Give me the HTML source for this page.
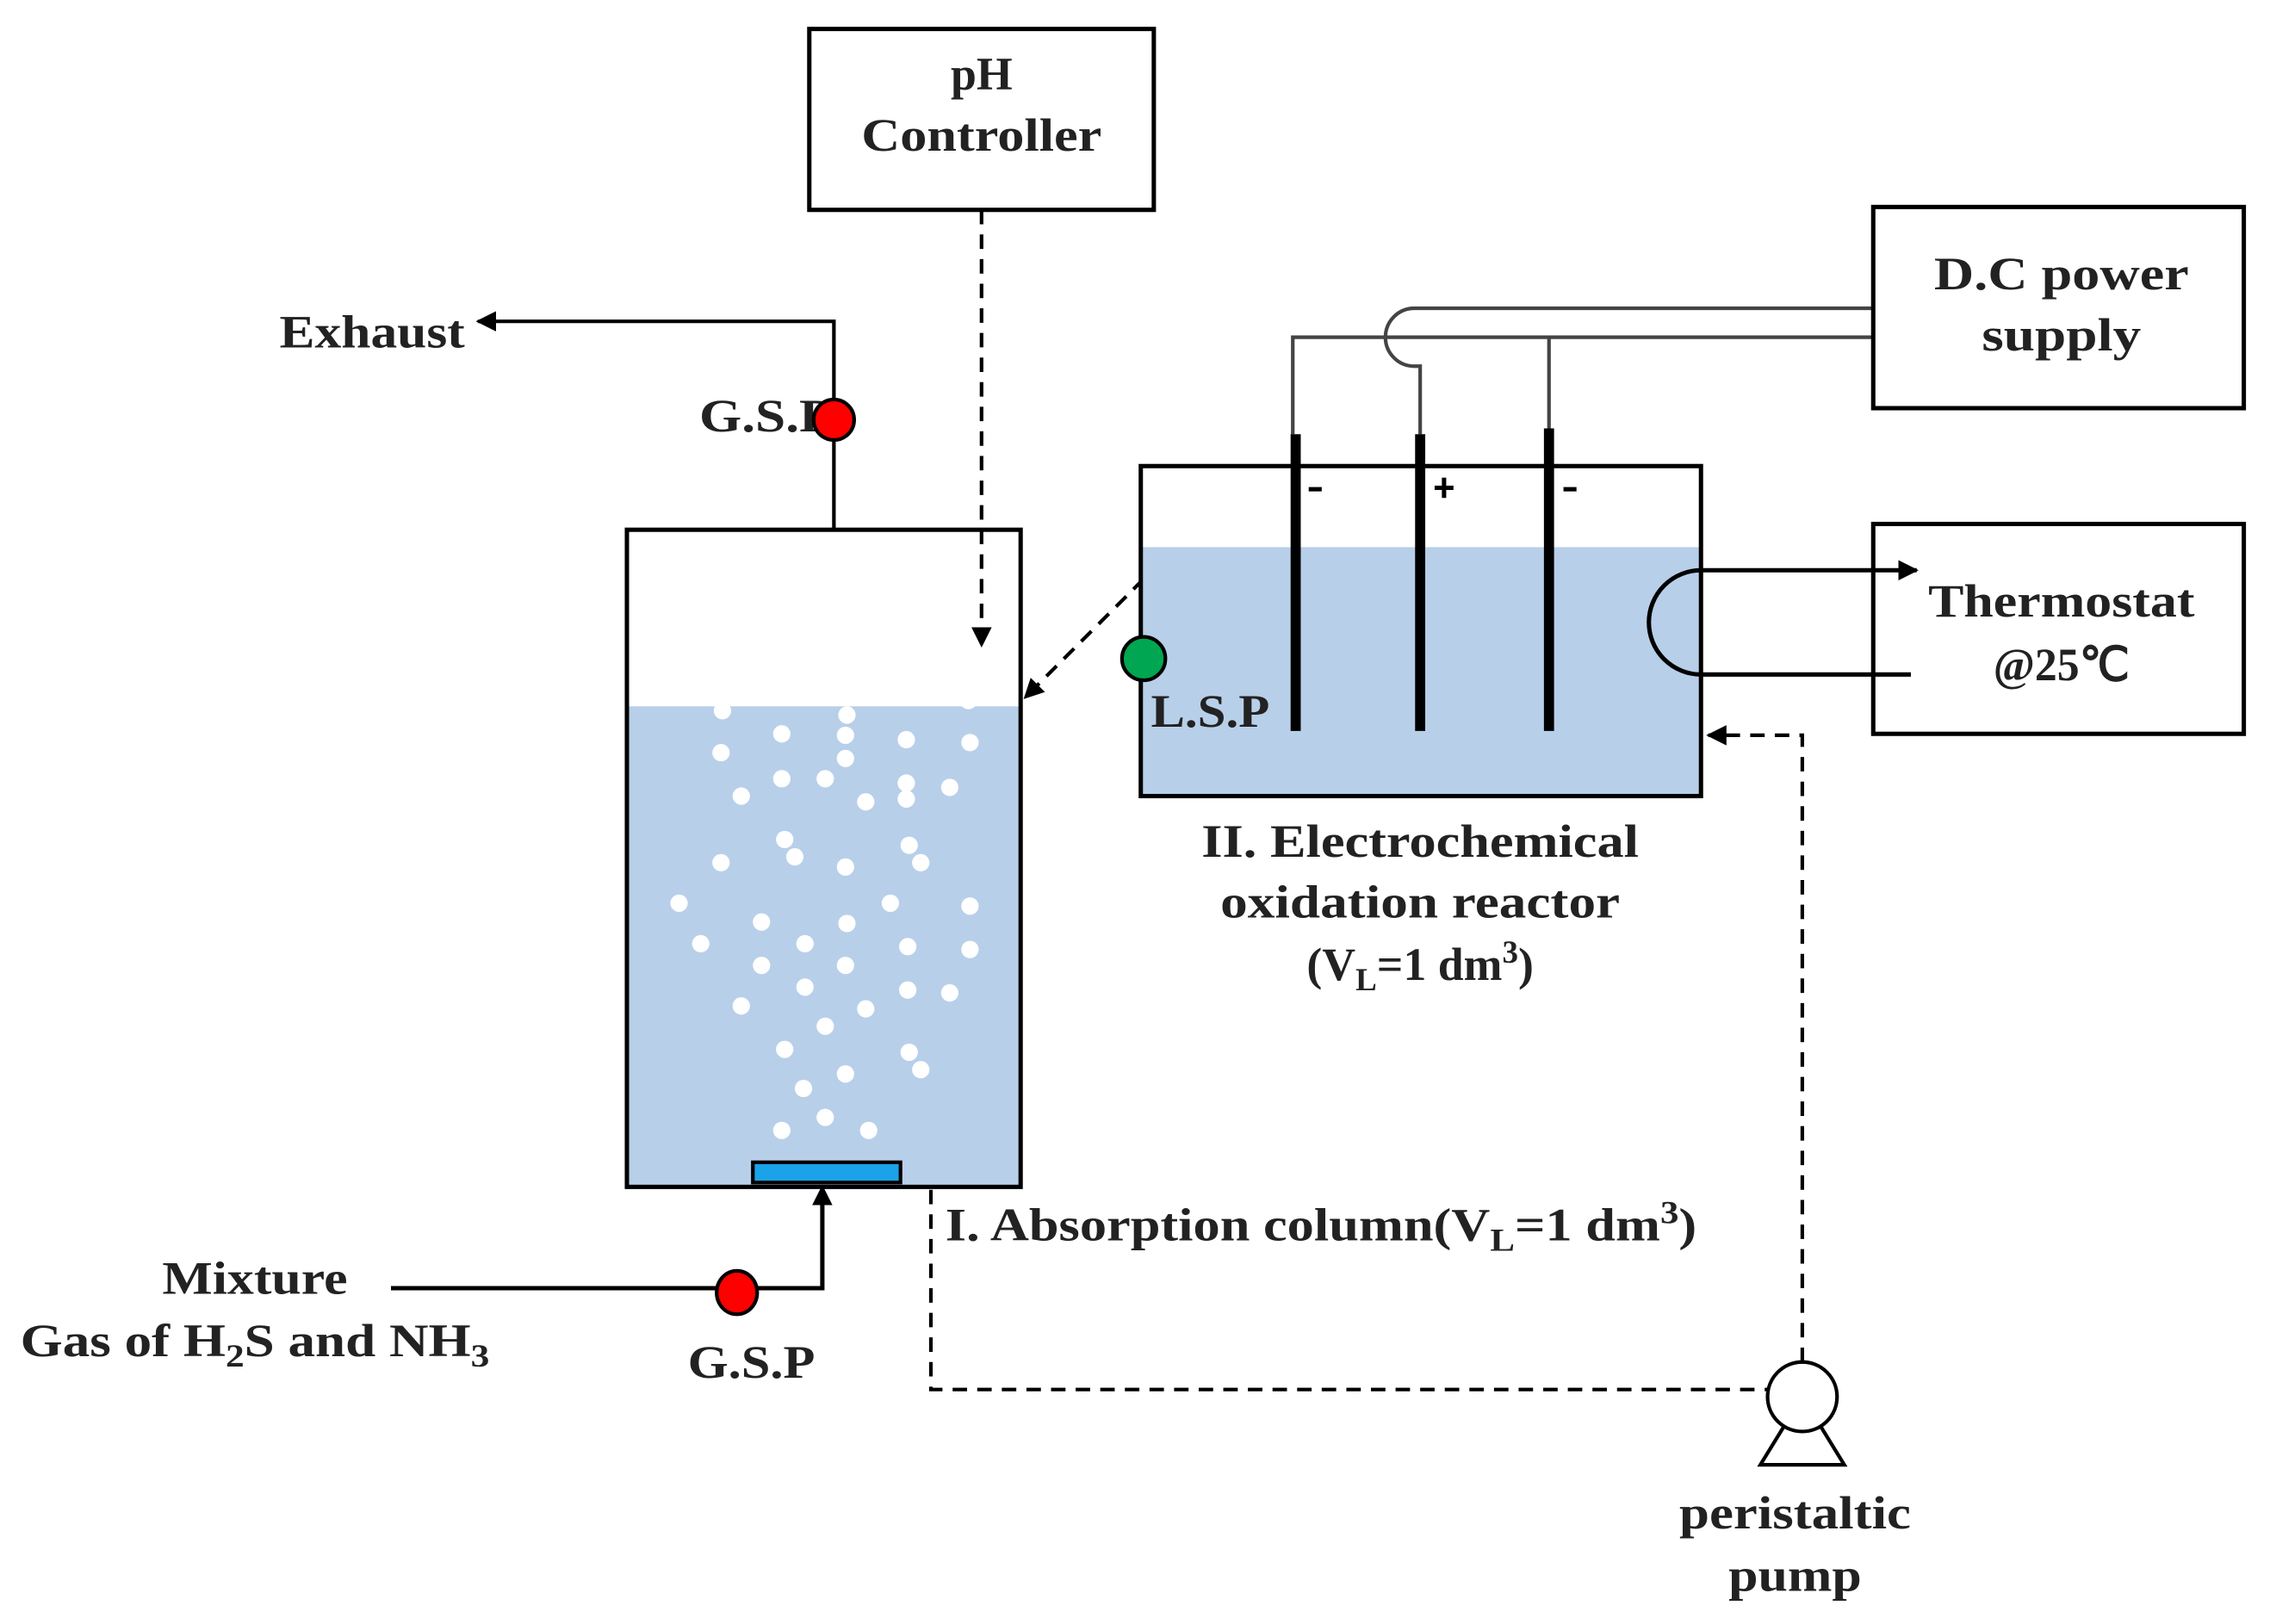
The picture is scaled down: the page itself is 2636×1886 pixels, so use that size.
<!DOCTYPE html>
<html><head><meta charset="utf-8"><style>
html,body{margin:0;padding:0;background:#fff;}
svg{display:block;}
text{font-family:"Liberation Serif",serif;font-size:32px;font-weight:bold;fill:#222;}
</style></head><body>
<svg width="2636" height="1886" viewBox="0 0 1568 1122" xmlns="http://www.w3.org/2000/svg">
<defs>
<marker id="ar2" viewBox="0 0 10 10" refX="9" refY="5" markerWidth="14" markerHeight="14" orient="auto" markerUnits="userSpaceOnUse"><path d="M0,0 L10,5 L0,10 z" fill="#000"/></marker>
</defs>
<rect x="559" y="20" width="238" height="125" fill="#fff" stroke="#000" stroke-width="3"/>
<text x="678" y="62" text-anchor="middle">pH</text>
<text x="678" y="104" text-anchor="middle" textLength="166" lengthAdjust="spacingAndGlyphs">Controller</text>
<line x1="678" y1="145" x2="678" y2="446" stroke="#000" stroke-width="2.5" stroke-dasharray="10,7" marker-end="url(#ar2)"/>
<rect x="433" y="488" width="272" height="332" fill="#b8cfe9"/>
<rect x="433" y="366" width="272" height="454" fill="none" stroke="#000" stroke-width="3"/>
<g fill="#fff">
<circle cx="499" cy="491" r="6"/><circle cx="585" cy="494" r="6"/><circle cx="669" cy="484" r="6"/>
<circle cx="540" cy="507" r="6"/><circle cx="584" cy="508" r="6"/><circle cx="626" cy="511" r="6"/><circle cx="670" cy="513" r="6"/>
<circle cx="498" cy="520" r="6"/><circle cx="584" cy="524" r="6"/><circle cx="540" cy="538" r="6"/><circle cx="570" cy="538" r="6"/>
<circle cx="626" cy="541" r="6"/><circle cx="656" cy="544" r="6"/><circle cx="512" cy="550" r="6"/><circle cx="598" cy="554" r="6"/><circle cx="626" cy="552" r="6"/>
<circle cx="542" cy="580" r="6"/><circle cx="549" cy="592" r="6"/><circle cx="628" cy="584" r="6"/><circle cx="636" cy="596" r="6"/>
<circle cx="498" cy="596" r="6"/><circle cx="584" cy="599" r="6"/>
<circle cx="469" cy="624" r="6"/><circle cx="615" cy="624" r="6"/><circle cx="670" cy="626" r="6"/>
<circle cx="526" cy="637" r="6"/><circle cx="585" cy="638" r="6"/><circle cx="484" cy="652" r="6"/><circle cx="556" cy="652" r="6"/><circle cx="627" cy="654" r="6"/><circle cx="670" cy="656" r="6"/>
<circle cx="526" cy="667" r="6"/><circle cx="584" cy="667" r="6"/><circle cx="556" cy="682" r="6"/><circle cx="627" cy="684" r="6"/><circle cx="656" cy="686" r="6"/>
<circle cx="512" cy="695" r="6"/><circle cx="598" cy="697" r="6"/><circle cx="570" cy="709" r="6"/>
<circle cx="542" cy="725" r="6"/><circle cx="628" cy="727" r="6"/><circle cx="636" cy="739" r="6"/><circle cx="584" cy="742" r="6"/><circle cx="555" cy="752" r="6"/>
<circle cx="570" cy="772" r="6"/><circle cx="540" cy="781" r="6"/><circle cx="600" cy="781" r="6"/>
</g>
<rect x="520" y="803" width="102" height="14" fill="#1aa3e8" stroke="#000" stroke-width="2.5"/>
<polyline points="576,366 576,222 330,222" fill="none" stroke="#000" stroke-width="2.5" marker-end="url(#ar2)"/>
<text x="193" y="240" textLength="128" lengthAdjust="spacingAndGlyphs">Exhaust</text>
<text x="483" y="298" textLength="92" lengthAdjust="spacingAndGlyphs">G.S.P</text>
<circle cx="576" cy="290" r="14" fill="#f00" stroke="#000" stroke-width="2.5"/>
<polyline points="270,890 568,890 568,820" fill="none" stroke="#000" stroke-width="3" marker-end="url(#ar2)"/>
<ellipse cx="509" cy="893" rx="14" ry="15" fill="#f00" stroke="#000" stroke-width="2.5"/>
<text x="176" y="894" text-anchor="middle" textLength="128" lengthAdjust="spacingAndGlyphs">Mixture</text>
<text x="14" y="937" textLength="324" lengthAdjust="spacingAndGlyphs">Gas of H<tspan font-size="22" dy="7">2</tspan><tspan dy="-7">S and NH</tspan><tspan font-size="22" dy="7">3</tspan></text>
<text x="475" y="952" textLength="88" lengthAdjust="spacingAndGlyphs">G.S.P</text>
<line x1="790" y1="400" x2="708" y2="482" stroke="#000" stroke-width="2.5" stroke-dasharray="10,7" marker-end="url(#ar2)"/>
<rect x="788" y="378" width="387" height="172" fill="#b8cfe9"/>
<rect x="788" y="322" width="387" height="228" fill="none" stroke="#000" stroke-width="3"/>
<g fill="none" stroke="#444" stroke-width="2.5">
<polyline points="893,300 893,233 1295,233"/>
<line x1="1070" y1="233" x2="1070" y2="300"/>
<path d="M1295,213 L977,213 A20,20 0 0 0 977,253 L981,253 L981,300"/>
</g>
<g stroke="#000" stroke-width="7">
<line x1="895" y1="300" x2="895" y2="505"/>
<line x1="981" y1="300" x2="981" y2="505"/>
<line x1="1070" y1="296" x2="1070" y2="505"/>
</g>
<g stroke="#000" stroke-width="3">
<line x1="904" y1="338" x2="913" y2="338"/>
<line x1="991" y1="337" x2="1004" y2="337"/><line x1="997.5" y1="330" x2="997.5" y2="344"/>
<line x1="1080" y1="338" x2="1089" y2="338"/>
</g>
<circle cx="790" cy="455" r="15" fill="#00a651" stroke="#000" stroke-width="2.5"/>
<text x="795" y="502" textLength="82" lengthAdjust="spacingAndGlyphs">L.S.P</text>
<rect x="1294" y="143" width="256" height="139" fill="#fff" stroke="#000" stroke-width="3"/>
<text x="1424" y="200" text-anchor="middle" textLength="176" lengthAdjust="spacingAndGlyphs">D.C power</text>
<text x="1424" y="242" text-anchor="middle" textLength="110" lengthAdjust="spacingAndGlyphs">supply</text>
<rect x="1294" y="362" width="256" height="145" fill="#fff" stroke="#000" stroke-width="3"/>
<text x="1424" y="426" text-anchor="middle" textLength="184" lengthAdjust="spacingAndGlyphs">Thermostat</text>
<text x="1424" y="470" text-anchor="middle" textLength="94" lengthAdjust="spacingAndGlyphs">@25℃</text>
<path d="M1320,466 L1175,466 A36,36 0 0 1 1175,394 L1324,394" fill="none" stroke="#000" stroke-width="3" marker-end="url(#ar2)"/>
<text x="981" y="592" text-anchor="middle" textLength="302" lengthAdjust="spacingAndGlyphs">II. Electrochemical</text>
<text x="981" y="634" text-anchor="middle" textLength="276" lengthAdjust="spacingAndGlyphs">oxidation reactor</text>
<text x="981" y="677" text-anchor="middle">(V<tspan font-size="22" dy="7">L</tspan><tspan dy="-7">=1 dm</tspan><tspan font-size="22" dy="-12">3</tspan><tspan dy="12">)</tspan></text>
<text x="653" y="857" textLength="519" lengthAdjust="spacingAndGlyphs">I. Absorption column(V<tspan font-size="22" dy="7">L</tspan><tspan dy="-7">=1 dm</tspan><tspan font-size="22" dy="-12">3</tspan><tspan dy="12">)</tspan></text>
<polyline points="643,822 643,960 1221,960" fill="none" stroke="#000" stroke-width="2.5" stroke-dasharray="10,7"/>
<polyline points="1245,941 1245,508 1180,508" fill="none" stroke="#000" stroke-width="2.5" stroke-dasharray="10,7" marker-end="url(#ar2)"/>
<path d="M1232,986 L1216,1012 L1274,1012 L1258,986" fill="none" stroke="#000" stroke-width="2.5"/>
<circle cx="1245" cy="965" r="24" fill="#fff" stroke="#000" stroke-width="2.5"/>
<text x="1240" y="1056" text-anchor="middle" textLength="160" lengthAdjust="spacingAndGlyphs">peristaltic</text>
<text x="1240" y="1099" text-anchor="middle" textLength="92" lengthAdjust="spacingAndGlyphs">pump</text>
</svg>
</body></html>
